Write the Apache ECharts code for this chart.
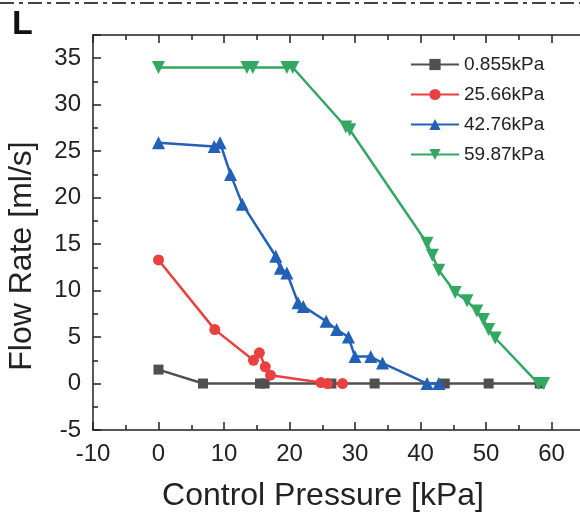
<!DOCTYPE html>
<html><head><meta charset="utf-8">
<script src="https://cdn.jsdelivr.net/npm/echarts@6/dist/echarts.min.js"></script>
<style>html,body{margin:0;padding:0;background:#fff;overflow:hidden}#c{width:640px;height:514px}</style>
</head><body><div id="c"></div>
<script>
const seriesNames = ['0.855kPa', '25.66kPa', '42.76kPa', '59.87kPa'];
const grayX = [0, 6.8, 15.5, 16.2, 26.4, 33.0, 43.7, 50.4, 58.2];
const grayY = [1.5, 0, 0, 0, 0, 0, 0, 0, 0];
const redX = [0, 8.6, 14.5, 15.4, 16.3, 17.1, 24.8, 25.8, 28.1];
const redY = [13.3, 5.8, 2.5, 3.3, 1.8, 0.9, 0.1, 0, 0];
const blueX = [0, 8.5, 9.4, 11.0, 12.8, 17.9, 18.6, 19.6, 21.3, 22.1, 25.6, 27.2, 29.0, 30.0, 32.4, 34.2, 41.0, 42.8];
const blueY = [25.9, 25.5, 25.9, 22.5, 19.3, 13.7, 12.4, 11.9, 8.7, 8.3, 6.7, 5.8, 5.0, 2.9, 2.9, 2.2, 0, 0];
const greenX = [0, 13.5, 14.4, 19.6, 20.5, 28.6, 29.2, 41.0, 41.8, 42.8, 45.3, 47.1, 48.6, 49.6, 50.4, 51.4, 58.0, 58.8];
const greenY = [34, 34, 34, 34, 34, 27.6, 27.3, 15.1, 13.8, 12.2, 9.8, 8.9, 7.8, 6.9, 5.8, 4.9, 0, 0];
const xTitle = 'Control Pressure [kPa]';
const yTitle = 'Flow Rate [ml/s]';
const panelLabel = 'L';

const colors = ['#505050', '#e8413f', '#2261b5', '#33a862'];
const font = 'Liberation Sans, Arial, sans-serif';
function pairs(xs, ys) { return xs.map((x, i) => [x, ys[i]]); }

const chart = echarts.init(document.getElementById('c'), null, {renderer: 'canvas'});
const axisCommon = {
  axisLine: {show: true, onZero: false, lineStyle: {color: '#222', width: 1.5}},
  axisTick: {show: true, inside: true, length: 8, lineStyle: {color: '#222', width: 1.5}},
  minorTick: {show: true, splitNumber: 2, length: 5, lineStyle: {color: '#222', width: 1.5}},
  splitLine: {show: false}
};
const mk = (name, xs, ys, sym, size, rot, color) => ({
  name, type: 'line', data: pairs(xs, ys), symbol: sym, symbolSize: size, symbolRotate: rot,
  lineStyle: {color, width: 2.5}, itemStyle: {color}, showAllSymbol: true, animation: false
});
chart.setOption({
  animation: false,
  grid: {left: 93, top: 35, right: 23, bottom: 84, containLabel: false},
  xAxis: [
    Object.assign({type: 'value', min: -10, max: 70, interval: 10, position: 'bottom',
      axisLabel: {color: '#222', fontSize: 24, fontFamily: font, margin: 12, showMaxLabel: false}}, axisCommon),
    Object.assign({type: 'value', min: -10, max: 70, interval: 10, position: 'top',
      axisLabel: {show: false}}, axisCommon)
  ],
  yAxis: [
    Object.assign({type: 'value', min: -5, max: 37.5, interval: 5, position: 'left',
      axisLabel: {color: '#222', fontSize: 24, fontFamily: font, margin: 12, showMaxLabel: false}}, axisCommon)
  ],
  legend: {
    orient: 'vertical', left: 405, top: 50, padding: 5, itemWidth: 48, itemHeight: 14, itemGap: 11,
    textStyle: {fontSize: 19, fontFamily: font, color: '#222'},
    data: seriesNames
  },
  series: [
    mk(seriesNames[0], grayX, grayY, 'rect', 10, 0, colors[0]),
    mk(seriesNames[1], redX, redY, 'circle', 11, 0, colors[1]),
    mk(seriesNames[2], blueX, blueY, 'triangle', 13, 0, colors[2]),
    mk(seriesNames[3], greenX, greenY, 'triangle', 13, 180, colors[3])
  ],
  graphic: [
    {type: 'line', shape: {x1: 0, y1: 3, x2: 640, y2: 3},
      style: {stroke: '#444', lineWidth: 2, lineDash: [14, 5, 4, 5]}},
    {type: 'text', left: 12, top: 8, style: {text: panelLabel, font: 'bold 34px ' + font, fill: '#111'}},
    {type: 'text', x: 323, y: 496, style: {text: xTitle, font: '32px ' + font, fill: '#222', textAlign: 'center', textVerticalAlign: 'middle'}},
    {type: 'text', x: 22, y: 256, rotation: Math.PI / 2, style: {text: yTitle, font: '32px ' + font, fill: '#222', textAlign: 'center', textVerticalAlign: 'middle'}}
  ]
});
</script></body></html>
